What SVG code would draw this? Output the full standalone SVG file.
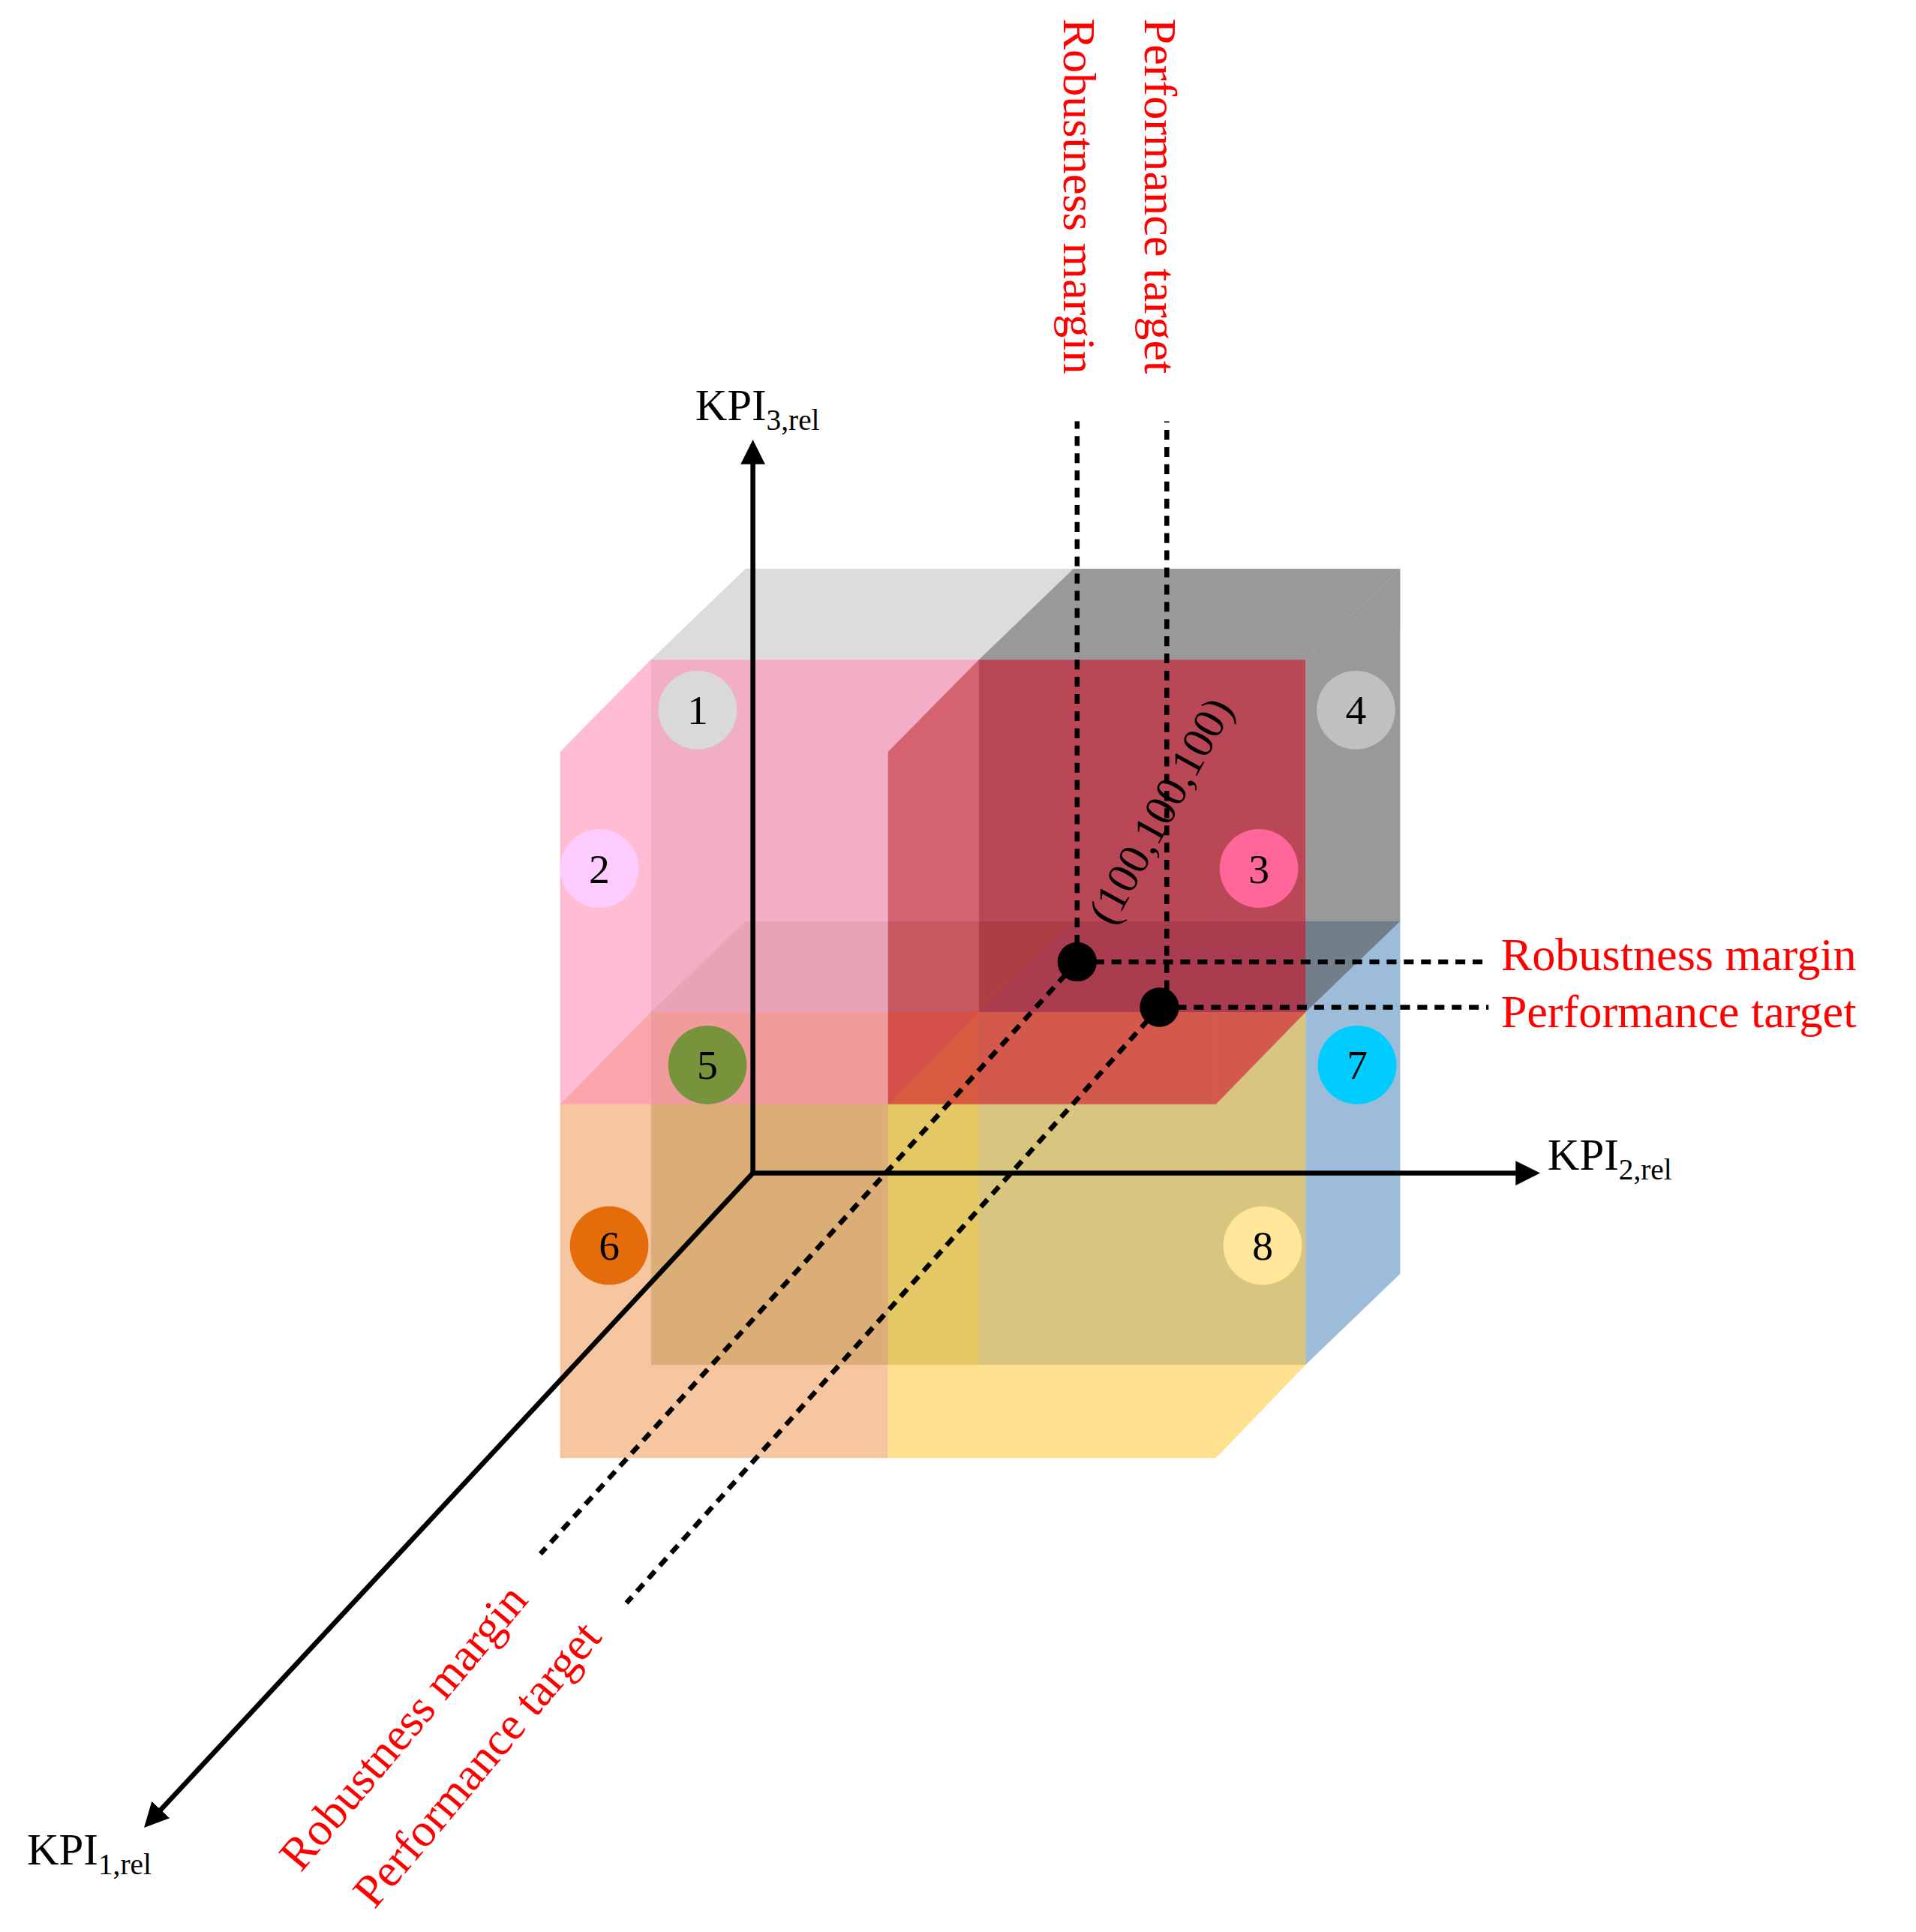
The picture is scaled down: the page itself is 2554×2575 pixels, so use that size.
<svg xmlns="http://www.w3.org/2000/svg" width="2554" height="2575" viewBox="0 0 2554 2575">
<style>
.t{font-family:"Liberation Serif","Times New Roman",serif;font-size:36px}
.r{fill:#ff0000;font-size:38px}
.f{fill-opacity:0.6;stroke:none}
.d{stroke:#000;stroke-width:4;stroke-dasharray:8 6;fill:none}
.ax{stroke:#000;stroke-width:4;fill:none}
.n{font-family:"Liberation Serif",serif;font-size:34px;text-anchor:middle;dominant-baseline:central}
</style>
<defs><marker id="ar" viewBox="0 0 10 10" refX="8" refY="5" markerWidth="5" markerHeight="5" orient="auto"><path d="M0,0L10,5L0,10z" fill="#000"/></marker></defs>
<rect width="2554" height="2575" fill="#fff"/>
<g transform="scale(1.6372)">
<g id="cubes">
<!-- back layer k=0 bottom j=1 -->
<g id="c5" fill="#8a9a50"><path class="f" d="M530,824L797,824L797,1111L530,1111z"/><path class="f" d="M530,824L797,824L874,750L607,750z"/></g>
<g id="c7" fill="#5b8fbf"><path class="f" d="M797,824L1063,824L1063,1111L797,1111z"/><path class="f" d="M797,824L1063,824L1140,750L874,750z"/><path class="f" d="M1063,824L1140,750L1140,1037L1063,1111z"/></g>
<g id="c1" fill="#c4c4c4"><path class="f" d="M530,537L797,537L797,824L530,824z"/><path class="f" d="M530,537L797,537L874,463L607,463z"/></g>
<g id="c4" fill="#555"><path class="f" d="M797,537L1063,537L1063,824L797,824z"/><path class="f" d="M797,537L1063,537L1140,463L874,463z"/><path class="f" d="M1063,537L1140,463L1140,750L1063,824z"/></g>
<g id="c6" fill="#f0a060"><path class="f" d="M456,899L723,899L723,1187L456,1187z"/><path class="f" d="M456,899L723,899L797,824L530,824z"/></g>
<g id="c8" fill="#ffcc44"><path class="f" d="M723,899L990,899L990,1187L723,1187z"/><path class="f" d="M723,899L990,899L1063,824L797,824z"/><path class="f" d="M990,899L1063,824L1063,1111L990,1187z"/></g>
<g id="c2" fill="#ff8fb5"><path class="f" d="M456,612L723,612L723,899L456,899z"/><path class="f" d="M456,612L723,612L797,537L530,537z"/></g>
<g id="c3" fill="#d0102a"><path class="f" d="M723,612L990,612L990,899L723,899z"/><path class="f" d="M723,612L990,612L1063,537L797,537z"/><path class="f" d="M990,612L1063,537L1063,824L990,899z"/></g>
</g>
<g id="connectors">
<line class="ax" x1="613" y1="955" x2="613" y2="362" marker-end="url(#ar)"/>
<line class="ax" x1="613" y1="955" x2="1250" y2="955" marker-end="url(#ar)"/>
<line class="ax" x1="613" y1="955" x2="120" y2="1485" marker-end="url(#ar)"/>
<line class="d" x1="877" y1="783" x2="877" y2="343"/>
<line class="d" x1="950" y1="820" x2="950" y2="343"/>
<line class="d" x1="877" y1="783" x2="1212" y2="783"/>
<line class="d" x1="944" y1="820" x2="1212" y2="820"/>
<line class="d" x1="877" y1="783" x2="440" y2="1265"/>
<line class="d" x1="944" y1="820" x2="510" y2="1305"/>
<circle cx="877" cy="783" r="16" fill="#000"/>
<circle cx="944" cy="820" r="16" fill="#000"/>
</g>
<g id="nums">
<circle cx="568" cy="578" r="32" fill="#d9d9d9"/><text class="n" x="568" y="578">1</text>
<circle cx="488" cy="707" r="32" fill="#ffccff"/><text class="n" x="488" y="707">2</text>
<circle cx="1025" cy="707" r="32" fill="#ff6699"/><text class="n" x="1025" y="707">3</text>
<circle cx="1104" cy="578" r="32" fill="#c0c0c0"/><text class="n" x="1104" y="578">4</text>
<circle cx="576" cy="867" r="32" fill="#77933c"/><text class="n" x="576" y="867">5</text>
<circle cx="496" cy="1014" r="32" fill="#e46c0a"/><text class="n" x="496" y="1014">6</text>
<circle cx="1105" cy="867" r="32" fill="#00ccff"/><text class="n" x="1105" y="867">7</text>
<circle cx="1028" cy="1014" r="32" fill="#ffe699"/><text class="n" x="1028" y="1014">8</text>
</g>
<g id="labels">
<text class="t" x="566" y="342">KPI<tspan font-size="24" dy="8">3,rel</tspan></text>
<text class="t" x="1260" y="952">KPI<tspan font-size="24" dy="8">2,rel</tspan></text>
<text class="t" x="22" y="1518">KPI<tspan font-size="24" dy="8">1,rel</tspan></text>
<text class="t r" transform="translate(866,15) rotate(90)">Robustness margin</text>
<text class="t r" transform="translate(932,15) rotate(90)">Performance target</text>
<text class="t r" x="1222" y="790">Robustness margin</text>
<text class="t r" x="1222" y="836">Performance target</text>
<text class="t r" transform="translate(245,1525) rotate(-50)">Robustness margin</text>
<text class="t r" transform="translate(305,1555) rotate(-50)">Performance target</text>
<text class="t" transform="translate(906,755) rotate(-61)">(100,100,100)</text>
</g>
</g>
</svg>
